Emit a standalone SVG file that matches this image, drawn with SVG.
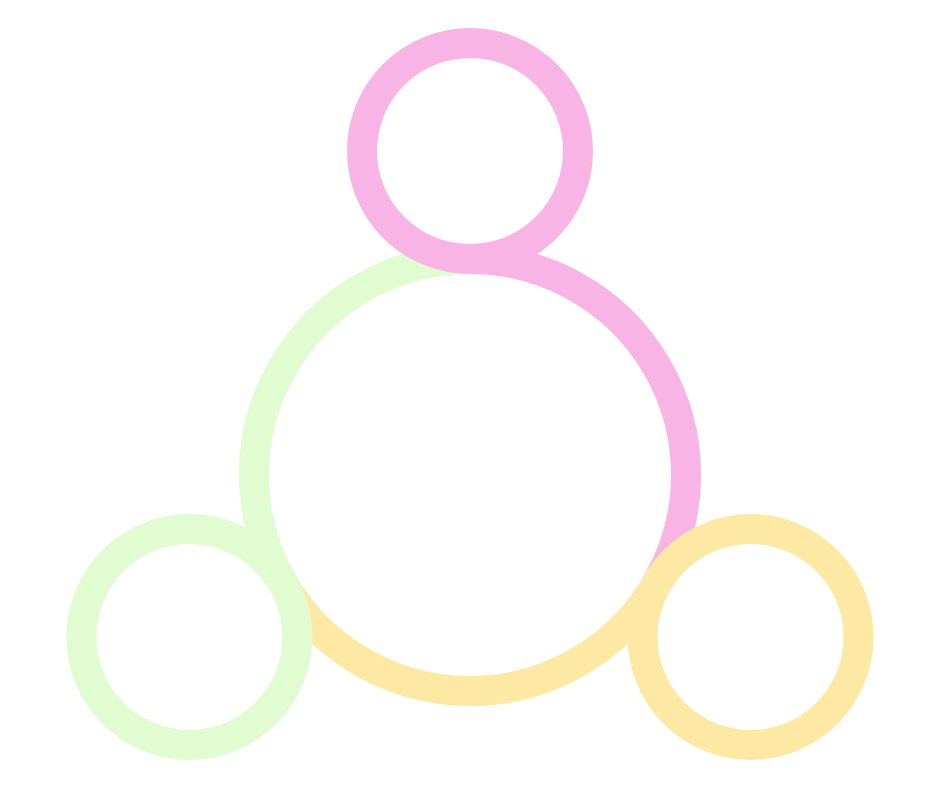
<svg xmlns="http://www.w3.org/2000/svg" width="940" height="788" viewBox="0 0 940 788">
<style>
.ring{fill:none;stroke-width:30}
.pink{stroke:#F8B4E5}
.green{stroke:#E1FCD0}
.yellow{stroke:#FEE9A4}
</style>
<rect width="940" height="788" fill="#ffffff"/>
<g id="connectors">
<path class="ring green" d="M 282.94 583 A 216 216 0 0 1 470 259"/>
<path class="ring yellow" d="M 657.06 583 A 216 216 0 0 1 282.94 583"/>
<path class="ring pink" d="M 470 259 A 216 216 0 0 1 657.06 583"/>
</g>
<g id="node-left"><circle class="ring green" cx="189.4" cy="637" r="108"/></g>
<g id="node-right"><circle class="ring yellow" cx="750.6" cy="637" r="108"/></g>
<g id="node-top"><circle class="ring pink" cx="470" cy="151" r="108"/></g>
</svg>
